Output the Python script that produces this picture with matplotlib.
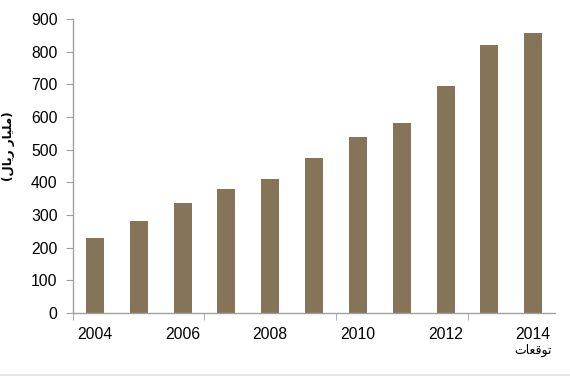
import matplotlib.pyplot as plt
from matplotlib.lines import Line2D
import numpy as np

years = [2004, 2005, 2006, 2007, 2008, 2009, 2010, 2011, 2012, 2013, 2014]
values = [230, 280, 337, 380, 410, 475, 540, 580, 695, 821, 856]
yticks = [0, 100, 200, 300, 400, 500, 600, 700, 800, 900]
xlabels = ["2004", "", "2006", "", "2008", "", "2010", "", "2012", "", "2014"]

# arabic written in visual order with presentation forms (no shaping in mpl)
ylabel = "(\ufedd\ufe8e\ufef3\ufead \ufead\ufe8e\ufef4\ufee0\ufee3)"
forecast = "\ufe95\ufe8e\ufecc\ufed7\ufeee\ufe97"

plt.rcParams['font.family'] = ['Liberation Sans', 'DejaVu Sans']

fig = plt.figure(figsize=(5.70, 3.78), dpi=100)
ax = fig.add_axes([0.128, 0.172, 0.846, 0.778])

x = np.arange(len(years))
ax.bar(x, values, width=0.41, color="#857457")

ax.set_xlim(-0.5, len(years) - 0.5)
ax.set_ylim(0, 900)
ax.set_yticks(yticks)
ax.set_xticks(x)
ax.set_xticklabels(xlabels, fontsize=11.3)
ax.tick_params(axis='x', length=0, pad=10)
ax.set_xticks([-0.5, 2.5, 5.5, 8.5], minor=True)
ax.tick_params(axis='x', which='minor', length=5, color="#a0a0a0", direction='out')
ax.tick_params(axis='y', labelsize=11.3, length=5, color="#a0a0a0", pad=6)

for s in ['top', 'right']:
    ax.spines[s].set_visible(False)
for s in ['left', 'bottom']:
    ax.spines[s].set_color("#a0a0a0")
    ax.spines[s].set_linewidth(1.0)

fig.text(9 / 570, 1 - 146 / 378, ylabel, rotation=90, ha='center', va='center',
         family=['DejaVu Sans'], fontsize=8.6, fontweight='bold')
ax.text(10, -0.128, forecast, transform=ax.get_xaxis_transform(), ha='center', va='center',
        family=['DejaVu Sans'], fontsize=9)

fig.add_artist(Line2D([0, 1], [0.007, 0.007], color="#e4e4e4", lw=1.2, transform=fig.transFigure))

fig.savefig("out.png", dpi=100)
